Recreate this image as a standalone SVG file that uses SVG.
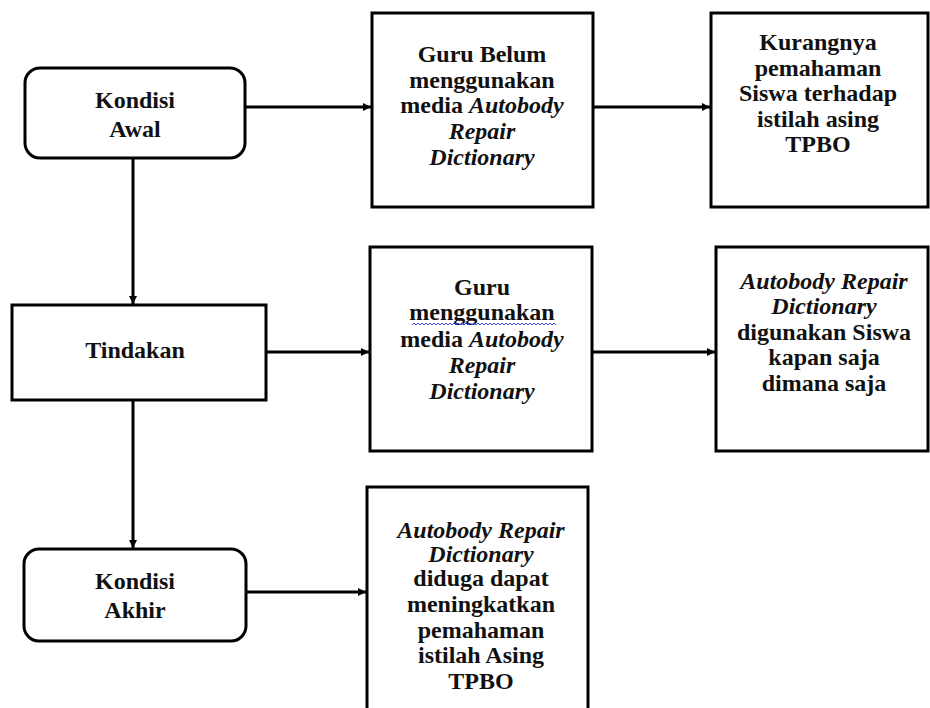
<svg xmlns="http://www.w3.org/2000/svg" width="930" height="708" viewBox="0 0 930 708">
<defs>
<marker id="ah" viewBox="0 0 10 10" refX="10" refY="5" markerWidth="10" markerHeight="8" markerUnits="userSpaceOnUse" orient="auto">
<path d="M0,0 L10,5 L0,10 Z" fill="#000"/>
</marker>
<style>
.box{fill:#fff;stroke:#000;stroke-width:3}
.con{fill:none;stroke:#000;stroke-width:3;marker-end:url(#ah)}
.t{font-family:"Liberation Serif","Times New Roman",serif;font-size:24px;font-weight:bold;text-anchor:middle;fill:#111}
.i{font-style:italic}
</style>
</defs>
<rect width="930" height="708" fill="#fff"/>
<g id="connectors">
<line class="con" x1="245" y1="107" x2="371" y2="107"/>
<line class="con" x1="593" y1="107" x2="710" y2="107"/>
<line class="con" x1="133" y1="158" x2="133" y2="304"/>
<line class="con" x1="266" y1="352" x2="369" y2="352"/>
<line class="con" x1="592" y1="352" x2="715" y2="352"/>
<line class="con" x1="133" y1="400" x2="133" y2="548"/>
<line class="con" x1="246" y1="592" x2="366" y2="592"/>
</g>
<g id="kondisi-awal">
<rect class="box" x="25" y="68" width="220" height="90" rx="15"/>
<text class="t" x="135" y="108">Kondisi</text>
<text class="t" x="135" y="137">Awal</text>
</g>
<g id="guru-belum">
<rect class="box" x="372" y="13" width="221" height="194"/>
<text class="t" x="482" y="62">Guru Belum</text>
<text class="t" x="482" y="88">menggunakan</text>
<text class="t" x="482" y="113">media <tspan class="i">Autobody</tspan></text>
<text class="t i" x="482" y="139">Repair</text>
<text class="t i" x="482" y="165">Dictionary</text>
</g>
<g id="kurangnya">
<rect class="box" x="711" y="13" width="217" height="194"/>
<text class="t" x="818" y="50">Kurangnya</text>
<text class="t" x="818" y="76">pemahaman</text>
<text class="t" x="818" y="101">Siswa terhadap</text>
<text class="t" x="818" y="127">istilah asing</text>
<text class="t" x="818" y="152">TPBO</text>
</g>
<g id="tindakan">
<rect class="box" x="12" y="305" width="254" height="95"/>
<text class="t" x="135" y="358">Tindakan</text>
</g>
<g id="guru-menggunakan">
<rect class="box" x="370" y="247" width="222" height="204"/>
<text class="t" x="482" y="295">Guru</text>
<text class="t" x="482" y="320">menggunakan</text>
<path d="M412,325 l2,-2 l2,2 l2,-2 l2,2 l2,-2 l2,2 l2,-2 l2,2 l2,-2 l2,2 l2,-2 l2,2 l2,-2 l2,2 l2,-2 l2,2 l2,-2 l2,2 l2,-2 l2,2 l2,-2 l2,2 l2,-2 l2,2 l2,-2 l2,2 l2,-2 l2,2 l2,-2 l2,2 l2,-2 l2,2 l2,-2 l2,2 l2,-2 l2,2 l2,-2 l2,2 l2,-2 l2,2 l2,-2 l2,2 l2,-2 l2,2 l2,-2 l2,2 l2,-2 l2,2 l2,-2 l2,2 l2,-2 l2,2 l2,-2 l2,2 l2,-2 l2,2 l2,-2 l2,2 l2,-2 l2,2 l2,-2 l2,2 l2,-2 l2,2 l2,-2 l2,2 l2,-2 l2,2 l2,-2 l2,2 l2,-2 l2,2" fill="none" stroke="#3344ee" stroke-width="1"/>
<text class="t" x="482" y="347">media <tspan class="i">Autobody</tspan></text>
<text class="t i" x="482" y="373">Repair</text>
<text class="t i" x="482" y="399">Dictionary</text>
</g>
<g id="digunakan-siswa">
<rect class="box" x="716" y="247" width="212" height="204"/>
<text class="t i" x="824" y="289">Autobody Repair</text>
<text class="t i" x="824" y="314">Dictionary</text>
<text class="t" x="824" y="340">digunakan Siswa</text>
<text class="t" x="824" y="365">kapan saja</text>
<text class="t" x="824" y="391">dimana saja</text>
</g>
<g id="kondisi-akhir">
<rect class="box" x="24" y="549" width="222" height="92" rx="15"/>
<text class="t" x="135" y="589">Kondisi</text>
<text class="t" x="135" y="618">Akhir</text>
</g>
<g id="diduga-dapat">
<rect class="box" x="367" y="487" width="221" height="240"/>
<text class="t i" x="481" y="538">Autobody Repair</text>
<text class="t i" x="481" y="562">Dictionary</text>
<text class="t" x="481" y="586">diduga dapat</text>
<text class="t" x="481" y="612">meningkatkan</text>
<text class="t" x="481" y="638">pemahaman</text>
<text class="t" x="481" y="663">istilah Asing</text>
<text class="t" x="481" y="689">TPBO</text>
</g>
</svg>
